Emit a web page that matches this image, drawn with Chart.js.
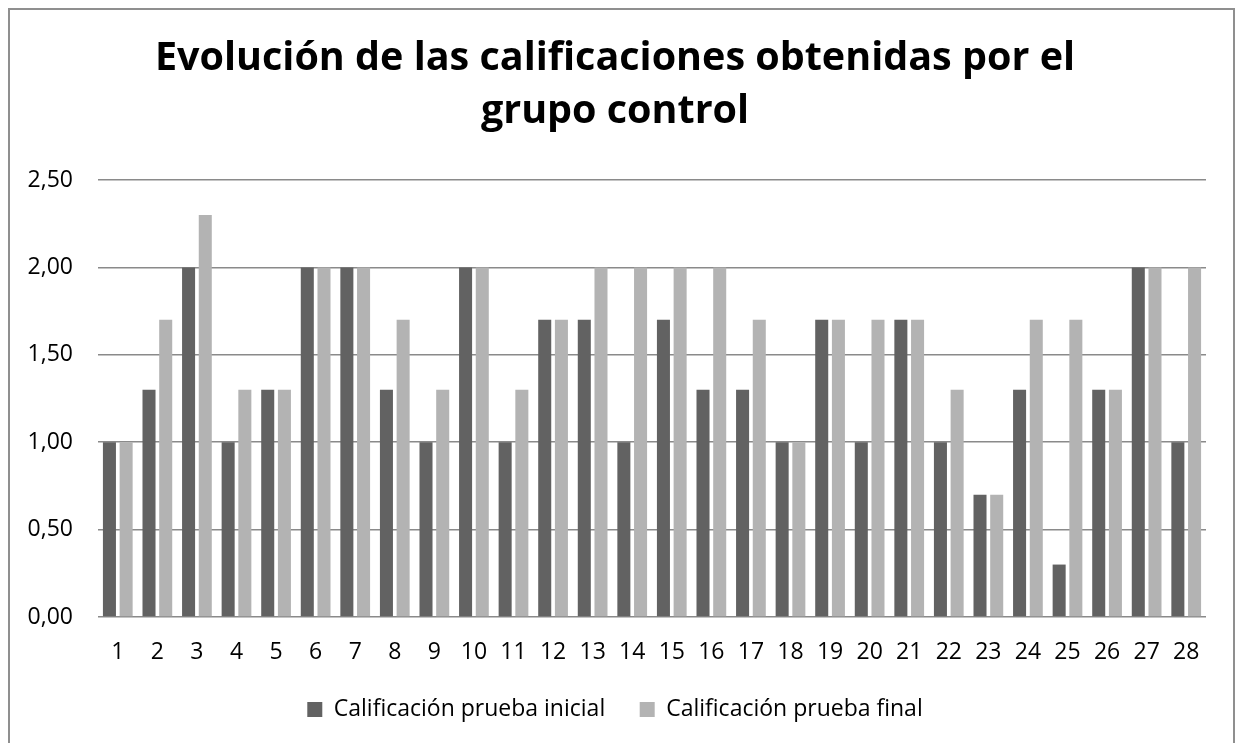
<!DOCTYPE html>
<html>
<head>
<meta charset="utf-8">
<script src="https://cdn.jsdelivr.net/npm/chart.js@4.4.1/dist/chart.umd.min.js"></script>
<style>
  html, body { margin: 0; padding: 0; background: #fff; overflow: hidden; }
  #wrap { position: relative; width: 1240px; height: 743px; overflow: hidden; }
  #frame { position: absolute; left: 8px; top: 8px; width: 1223px; height: 780px; border: 2px solid #8f8f8f; pointer-events: none; }
  canvas { position: absolute; left: 0; top: 0; }
</style>
</head>
<body>
<div id="wrap">
  <canvas id="chart" width="1240" height="743"></canvas>
  <div id="frame"></div>
</div>
<script>
const categories = ["1","2","3","4","5","6","7","8","9","10","11","12","13","14","15","16","17","18","19","20","21","22","23","24","25","26","27","28"];
const inicial = [1.0, 1.3, 2.0, 1.0, 1.3, 2.0, 2.0, 1.3, 1.0, 2.0, 1.0, 1.7, 1.7, 1.0, 1.7, 1.3, 1.3, 1.0, 1.7, 1.0, 1.7, 1.0, 0.7, 1.3, 0.3, 1.3, 2.0, 1.0];
const final = [1.0, 1.7, 2.3, 1.3, 1.3, 2.0, 2.0, 1.7, 1.3, 2.0, 1.3, 1.7, 2.0, 2.0, 2.0, 2.0, 1.7, 1.0, 1.7, 1.7, 1.7, 1.3, 0.7, 1.7, 1.7, 1.3, 2.0, 2.0];
const seriesNames = ["Calificación prueba inicial", "Calificación prueba final"];
const titleLines = ["Evolución de las calificaciones obtenidas por el", "grupo control"];

const family = "'Open Sans', 'Liberation Sans', sans-serif";

// fit the title font to the width of the original (Calibri) title
const mctx = document.createElement("canvas").getContext("2d");
mctx.font = "bold 100px " + family;
const titleSize = Math.round(100 * 920 / mctx.measureText(titleLines[0]).width * 10) / 10;
const titleLH = 53;
const titlePadTop = Math.round(74 - 0.388 * titleSize - titleLH / 2);
const titlePadBottom = 180 - titlePadTop - 2 * titleLH;

const padL = 24, padR = 34;
const tickSize = 23, xTickPad = 23.5;
const xAxisH = xTickPad + tickSize;
const legendPad = 34.5;
const legendH = tickSize + legendPad + 10;
const padB = 743 - 617 - xAxisH - legendH;

new Chart(document.getElementById("chart"), {
    type: "bar",
    data: {
        labels: categories,
        datasets: [
            { label: seriesNames[0], data: inicial, backgroundColor: "#626262" },
            { label: seriesNames[1], data: final, backgroundColor: "#b3b3b3" },
        ],
    },
    options: {
        responsive: false,
        animation: false,
        categoryPercentage: 0.844,
        barPercentage: 0.78,
        layout: { padding: { left: padL, right: padR, top: 0, bottom: padB } },
        scales: {
            x: {
                grid: { display: false, drawTicks: false },
                border: { display: false },
                ticks: { color: "#000", font: { family, size: tickSize, lineHeight: 1 }, padding: xTickPad, maxRotation: 0, autoSkip: false },
                afterFit: (s) => { s.height = xAxisH; },
            },
            y: {
                min: 0,
                max: 2.5,
                grid: { color: "#8a8a8a", lineWidth: 1.6, drawTicks: false },
                border: { display: false },
                ticks: {
                    stepSize: 0.5,
                    color: "#000",
                    padding: 25,
                    font: { family, size: tickSize },
                    callback: (v) => v.toFixed(2).replace(".", ","),
                },
                afterFit: (s) => { s.width = 98 - padL; },
            },
        },
        plugins: {
            title: {
                display: true,
                text: titleLines,
                color: "#000",
                font: { family, size: titleSize, weight: "bold", lineHeight: titleLH + "px" },
                padding: { top: titlePadTop, bottom: titlePadBottom },
            },
            legend: {
                position: "bottom",
                labels: {
                    color: "#000",
                    boxWidth: 15,
                    boxHeight: 15,
                    padding: legendPad,
                    font: { family, size: tickSize },
                },
            },
            tooltip: { enabled: false },
        },
    },
});
</script>
</body>
</html>
